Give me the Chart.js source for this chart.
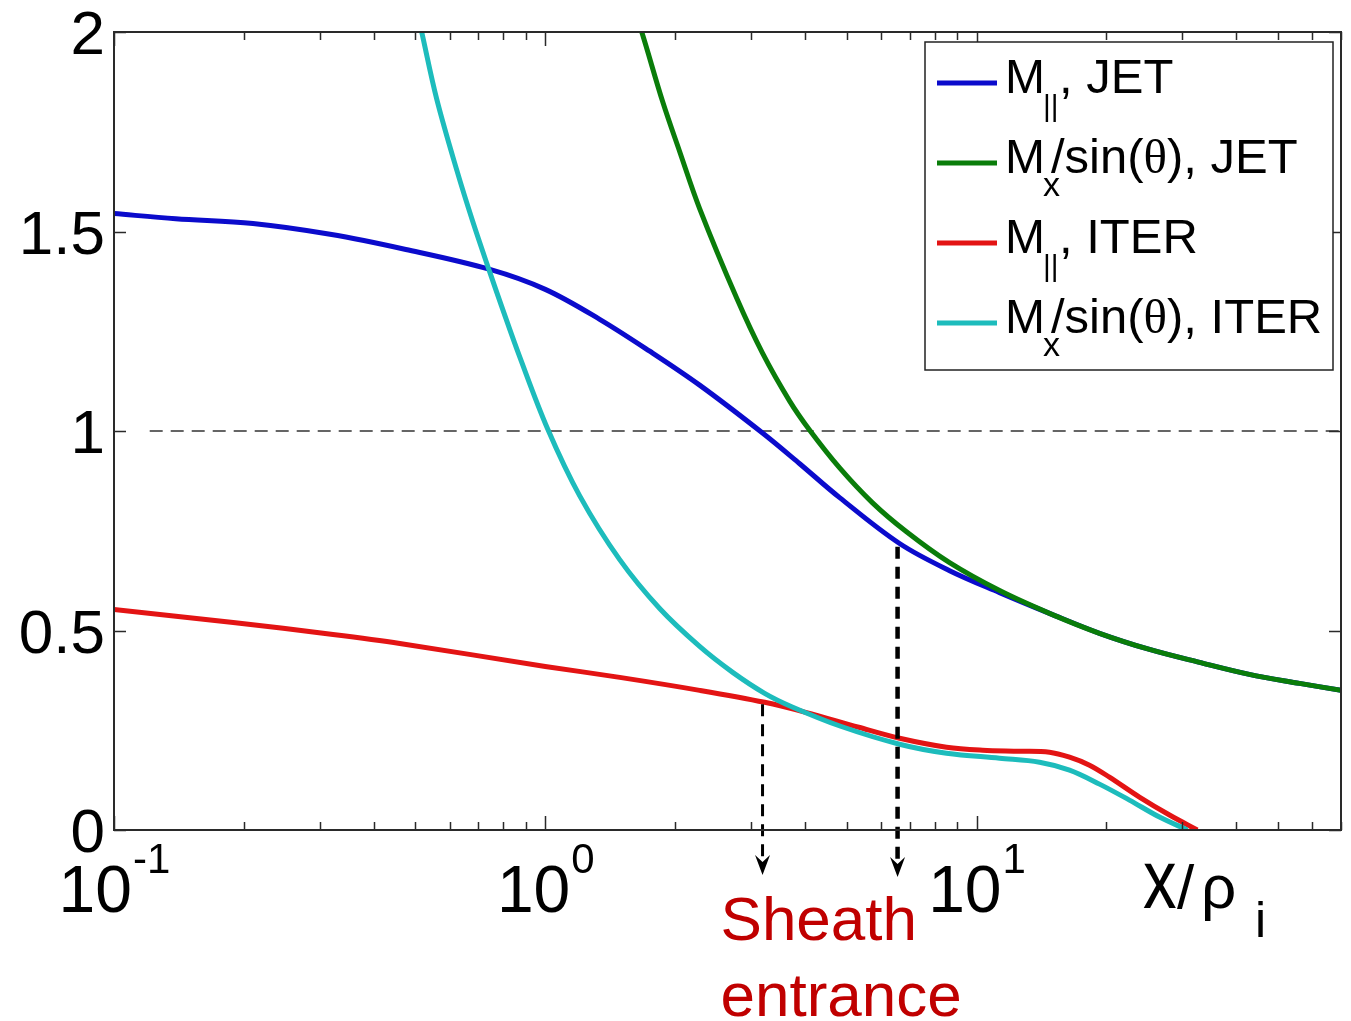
<!DOCTYPE html>
<html>
<head>
<meta charset="utf-8">
<title>Mach number near the wall</title>
<script src="https://cdn.jsdelivr.net/npm/chart.js@4.4.1/dist/chart.umd.min.js"></script>
<style>
    html, body { margin: 0; padding: 0; background: #fff; }
    #wrap { width: 1351px; height: 1021px; }
</style>
</head>
<body>
<div id="wrap"><canvas id="machChart" width="1351" height="1021"></canvas></div>
<script>
// M_parallel, JET
const xParJet = [0.1, 0.139, 0.21, 0.317, 0.475, 0.744, 1.0, 1.337, 1.747, 2.28, 3.19, 3.89, 4.815, 6.63, 8.66, 11.31, 14.76, 19.28, 25.18, 32.9, 42.9, 56.1, 70];
const mParJet = [1.545, 1.532, 1.52, 1.493, 1.455, 1.405, 1.355, 1.28, 1.2, 1.115, 0.995, 0.918, 0.833, 0.718, 0.65, 0.595, 0.543, 0.493, 0.4525, 0.42, 0.39, 0.3675, 0.35];

// M_x / sin(theta), JET
const xPerpJet = [1.6, 1.674, 1.872, 2.05, 2.28, 2.78, 3.19, 3.687, 4.10, 4.815, 5.74, 6.88, 8.66, 11.31, 14.76, 19.28, 25.18, 32.9, 42.9, 56.1, 70];
const mPerpJet = [2.06, 2.0, 1.825, 1.70, 1.5575, 1.3325, 1.195, 1.075, 1.0025, 0.9075, 0.82, 0.7475, 0.67, 0.60, 0.543, 0.493, 0.4525, 0.42, 0.39, 0.3675, 0.35];

// M_parallel, ITER
const xParIter = [0.1, 0.189, 0.322, 0.46, 1.0, 1.488, 2.28, 3.226, 4.015, 5.33, 6.63, 8.52, 10.33, 12.58, 14.76, 16.43, 18.28, 20.33, 23.86, 28.02, 32.5];
const mParIter = [0.5525, 0.52, 0.49, 0.4675, 0.41, 0.3825, 0.35, 0.32, 0.295, 0.2575, 0.23, 0.2075, 0.2, 0.1975, 0.195, 0.1825, 0.1625, 0.1325, 0.0825, 0.0375, 0];

// M_x / sin(theta), ITER
const xPerpIter = [0.506, 0.517, 0.56, 0.624, 0.679, 0.744, 0.793, 0.873, 1.013, 1.202, 1.488, 1.842, 2.28, 2.72, 3.226, 3.727, 4.84, 6.63, 8.52, 11.31, 14.0, 16.43, 19.28, 22.62, 26.56, 30.83];
const mPerpIter = [2.045, 2.0, 1.8325, 1.6525, 1.525, 1.3975, 1.311, 1.185, 1.005, 0.8375, 0.6775, 0.555, 0.46, 0.395, 0.3425, 0.309, 0.26, 0.215, 0.1925, 0.18, 0.17, 0.15, 0.115, 0.075, 0.0325, 0];

// sonic line M = 1
const sonicX = [0.121, 70];
const sonicM = [1, 1];

// sheath entrance markers: position, Mach number the arrow starts from, end of the shaft
const sheathX = [3.19, 6.56];
const sheathM = [0.315, 0.71];
const arrowEnd = [-0.08, -0.085];

const yTicks = [0, 0.5, 1, 1.5, 2];
const yTickLabels = ["0", "0.5", "1", "1.5", "2"];
const xDecades = [0.1, 1, 10];
const xDecadeExponents = ["-1", "0", "1"];

const seriesColors = ["#0b0bcc", "#0a7d0a", "#e31414", "#1dbcbc"];
const legendRows = [
    ["M", "||", ", JET"],
    ["M", "x", "/sin(θ), JET"],
    ["M", "||", ", ITER"],
    ["M", "x", "/sin(θ), ITER"]
];

const SANS = "'Liberation Sans', Arial, Helvetica, sans-serif";
const SERIF = "'Liberation Serif', 'Times New Roman', serif";

function toPoints(xs, ys) {
    return xs.map((x, i) => ({ x: x, y: ys[i] }));
}

function curve(xs, ys, color, order) {
    return {
        data: toPoints(xs, ys),
        borderColor: color,
        borderWidth: 5,
        pointRadius: 0,
        fill: false,
        tension: 0.35,
        order: order
    };
}

function sheathArrow(i, width) {
    return {
        data: [{ x: sheathX[i], y: sheathM[i] }, { x: sheathX[i], y: arrowEnd[i] }],
        borderColor: "#000",
        borderWidth: width,
        borderDash: [12, 8],
        pointRadius: 0,
        clip: false,
        order: 0
    };
}

// box, inward ticks on all four sides, arrow heads
const axesFrame = {
    id: "axesFrame",
    afterDatasetsDraw(chart) {
        const { ctx, chartArea: a, scales: { x, y } } = chart;
        ctx.save();
        ctx.strokeStyle = "#2a2a2a";
        ctx.lineWidth = 1.5;
        ctx.beginPath();
        xDecades.forEach(d => {
            for (let k = 1; k <= 9; k++) {
                const v = k * d;
                if (v > x.max) break;
                const px = Math.round(x.getPixelForValue(v)) + 0.5;
                const len = k === 1 ? 14 : 8;
                ctx.moveTo(px, a.bottom);
                ctx.lineTo(px, a.bottom - len);
                ctx.moveTo(px, a.top);
                ctx.lineTo(px, a.top + len);
            }
        });
        yTicks.forEach(v => {
            const py = Math.round(y.getPixelForValue(v)) + 0.5;
            ctx.moveTo(a.left, py);
            ctx.lineTo(a.left + 12, py);
            ctx.moveTo(a.right, py);
            ctx.lineTo(a.right - 12, py);
        });
        ctx.stroke();
        ctx.lineWidth = 2;
        ctx.strokeRect(a.left, a.top, a.right - a.left, a.bottom - a.top);

        ctx.fillStyle = "#000";
        sheathX.forEach((v, i) => {
            const px = x.getPixelForValue(v);
            const py = y.getPixelForValue(arrowEnd[i]);
            ctx.beginPath();
            ctx.moveTo(px, py + 13);
            ctx.lineTo(px - 7.5, py - 7);
            ctx.lineTo(px, py);
            ctx.lineTo(px + 7.5, py - 7);
            ctx.closePath();
            ctx.fill();
        });
        ctx.restore();
    }
};

// tick labels, axis title, legend and the sheath annotation
const annotations = {
    id: "annotations",
    afterDraw(chart) {
        const { ctx, chartArea: a, scales: { x, y } } = chart;
        ctx.save();
        ctx.fillStyle = "#000";
        ctx.textBaseline = "alphabetic";

        // y tick labels
        ctx.font = "62px " + SANS;
        ctx.textAlign = "right";
        yTicks.forEach((v, i) => {
            ctx.fillText(yTickLabels[i], a.left - 9, y.getPixelForValue(v) + 22);
        });

        // x tick labels 10^n
        ctx.textAlign = "left";
        xDecades.forEach((v, i) => {
            ctx.font = "66px " + SANS;
            const wBase = ctx.measureText("10").width;
            ctx.font = "42px " + SANS;
            const wExp = ctx.measureText(xDecadeExponents[i]).width;
            const left = x.getPixelForValue(v) - (wBase + wExp) / 2;
            ctx.font = "66px " + SANS;
            ctx.fillText("10", left, a.bottom + 82);
            ctx.font = "42px " + SANS;
            ctx.fillText(xDecadeExponents[i], left + wBase + 1, a.bottom + 43);
        });

        // axis title x/rho_i
        ctx.save();
        ctx.translate(a.right - 198, a.bottom + 78);
        ctx.scale(0.8, 1);
        ctx.font = "84px " + SANS;
        ctx.fillText("x", 0, 0);
        ctx.restore();
        ctx.font = "62px " + SANS;
        ctx.fillText("/", a.right - 164, a.bottom + 78);
        ctx.fillText("ρ", a.right - 140, a.bottom + 78);
        ctx.font = "50px " + SANS;
        ctx.fillText("i", a.right - 86, a.bottom + 107);

        // sheath entrance label
        ctx.fillStyle = "#c00000";
        ctx.font = "62px " + SANS;
        const sx = x.getPixelForValue(sheathX[0]) - 42;
        ctx.fillText("Sheath", sx, a.bottom + 110);
        ctx.fillText("entrance", sx, a.bottom + 186);

        // legend
        const lx = a.right - 416, ly = a.top + 10, lw = 408, lh = 328;
        ctx.fillStyle = "#fff";
        ctx.fillRect(lx, ly, lw, lh);
        ctx.strokeStyle = "#222";
        ctx.lineWidth = 1.5;
        ctx.strokeRect(lx, ly, lw, lh);
        legendRows.forEach((row, i) => {
            const rowY = ly + 41 + 80 * i;
            ctx.strokeStyle = seriesColors[i];
            ctx.lineWidth = 5;
            ctx.beginPath();
            ctx.moveTo(lx + 12, rowY);
            ctx.lineTo(lx + 72, rowY);
            ctx.stroke();

            ctx.fillStyle = "#000";
            ctx.font = "48px " + SANS;
            ctx.fillText(row[0], lx + 80, rowY + 9.5);
            const isPar = row[1] === "||";
            ctx.font = (isPar ? "30px " : "34px ") + SANS;
            ctx.fillText(row[1], lx + 118, rowY + 33);

            let tx = lx + (isPar ? 134 : 126);
            row[2].split(/(θ)/).forEach(part => {
                ctx.font = "49px " + (part === "θ" ? SERIF : SANS);
                ctx.fillText(part, tx, rowY + 9.5);
                tx += ctx.measureText(part).width;
            });
        });
        ctx.restore();
    }
};

const ctx = document.getElementById("machChart").getContext("2d");
const machChart = new Chart(ctx, {
    type: "line",
    data: {
        datasets: [
            {
                data: toPoints(sonicX, sonicM),
                borderColor: "#333",
                borderWidth: 1.5,
                borderDash: [13, 8],
                pointRadius: 0,
                order: 5
            },
            curve(xParJet, mParJet, seriesColors[0], 4),
            curve(xPerpJet, mPerpJet, seriesColors[1], 3),
            curve(xParIter, mParIter, seriesColors[2], 2),
            curve(xPerpIter, mPerpIter, seriesColors[3], 1),
            sheathArrow(0, 3),
            sheathArrow(1, 4.5)
        ]
    },
    options: {
        responsive: false,
        animation: false,
        layout: {
            padding: { left: 114, right: 10, top: 32, bottom: 191 },
            autoPadding: false
        },
        plugins: {
            legend: { display: false },
            tooltip: { enabled: false }
        },
        scales: {
            x: { type: "logarithmic", min: 0.1, max: 70, display: false },
            y: { type: "linear", min: 0, max: 2, display: false }
        }
    },
    plugins: [axesFrame, annotations]
});
</script>
</body>
</html>
